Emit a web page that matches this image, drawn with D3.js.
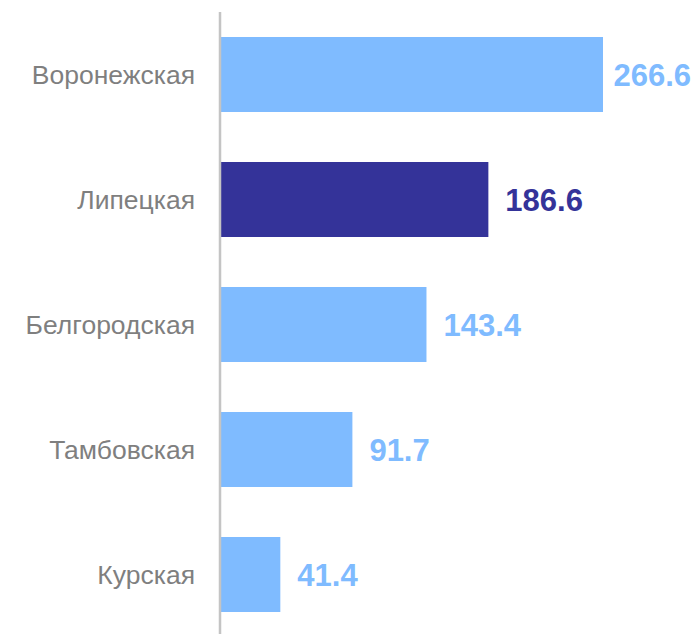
<!DOCTYPE html>
<html>
<head>
<meta charset="utf-8">
<script src="https://cdn.jsdelivr.net/npm/d3@7"></script>
<style>
  html, body { margin: 0; padding: 0; background: #fff; }
  svg { display: block; font-family: "Liberation Sans", Arial, sans-serif; }
</style>
</head>
<body>
<div id="chart"></div>
<script>
// regions and values
var regions = ["Воронежская", "Липецкая", "Белгородская", "Тамбовская", "Курская"];
var values = [266.6, 186.6, 143.4, 91.7, 41.4];
var highlight = "Липецкая";

var width = 694, height = 634;
var x0 = 221;
var lightBlue = "#7fbbff", darkBlue = "#343399";

var svg = d3.select("#chart")
       .append("svg")
       .attr("width", width)
       .attr("height", height);

var data = regions.map(function (r, i) { return { name: r, value: values[i] }; });

// x: value -> px
var x = d3.scaleLinear()
       .domain([0, 266.6])
       .range([x0, 603]);

var y = d3.scaleBand()
       .domain(regions)
       .range([12, 637])
       .paddingInner(0.4)
       .paddingOuter(0.2);

// bars
svg.selectAll("rect.bar")
       .data(data)
       .enter()
       .append("rect")
       .attr("class", "bar")
       .attr("x", x(0))
       .attr("y", function (d) { return y(d.name); })
       .attr("width", function (d) { return x(d.value) - x(0); })
       .attr("height", y.bandwidth())
       .style("fill", function (d) { return d.name == highlight ? darkBlue : lightBlue; });

// axis line
svg.append("line")
       .attr("x1", 220).attr("x2", 220)
       .attr("y1", 12).attr("y2", height)
       .style("stroke", "#c4c4c4")
       .style("stroke-width", 2.5);

// category labels
svg.selectAll("text.cat")
       .data(data)
       .enter()
       .append("text")
       .attr("class", "cat")
       .attr("x", 195)
       .attr("y", function (d) { return y(d.name) + y.bandwidth() / 2; })
       .attr("dy", "0.35em")
       .attr("text-anchor", "end")
       .style("font-size", "26.5px")
       .style("fill", "#7f7f7f")
       .text(function (d) { return d.name; });

// value labels, pushed back inside the frame if they would overflow
svg.selectAll("text.val")
       .data(data)
       .enter()
       .append("text")
       .attr("class", "val")
       .attr("y", function (d) { return y(d.name) + y.bandwidth() / 2; })
       .attr("dy", "0.36em")
       .style("font-size", "31px")
       .style("font-weight", "bold")
       .style("fill", function (d) { return d.name == highlight ? darkBlue : lightBlue; })
       .text(function (d) { return d.value.toFixed(1); })
       .attr("x", function (d) {
              var w = this.getComputedTextLength();
              return Math.min(x(d.value) + 17, width - 3 - w);
       });
</script>
</body>
</html>
